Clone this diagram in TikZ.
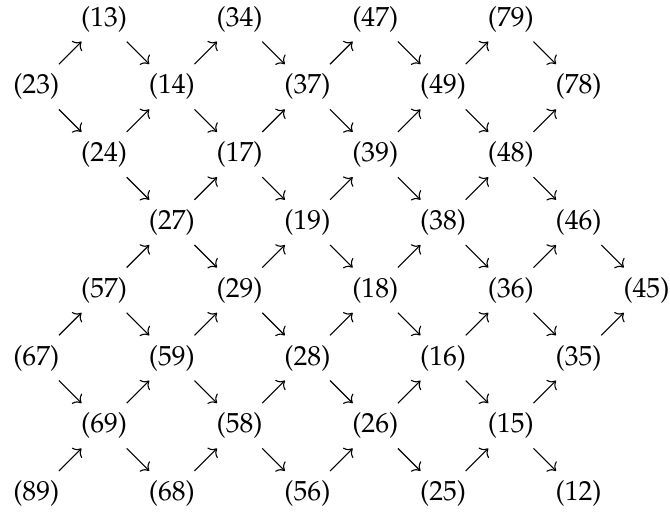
\documentclass[tikz,border=0pt]{standalone}
\usepackage[T1]{fontenc}
\usepackage{mathpazo}
\usepackage{tikz}
\usetikzlibrary{arrows.meta}

\begin{document}
\begin{tikzpicture}[
        x=24.57pt, y=-24.57pt,
        >={Computer Modern Rightarrow},
        arrow/.style={->}
    ]
        \useasboundingbox (-0.535,-0.280) rectangle (9.347,7.271);

        % row 0
        \node (s13) at (1,0) {(13)};
        \node (s34) at (3,0) {(34)};
        \node (s47) at (5,0) {(47)};
        \node (s79) at (7,0) {(79)};
        % row 1
        \node (s23) at (0,1) {(23)};
        \node (s14) at (2,1) {(14)};
        \node (s37) at (4,1) {(37)};
        \node (s49) at (6,1) {(49)};
        \node (s78) at (8,1) {(78)};
        % row 2
        \node (s24) at (1,2) {(24)};
        \node (s17) at (3,2) {(17)};
        \node (s39) at (5,2) {(39)};
        \node (s48) at (7,2) {(48)};
        % row 3
        \node (s27) at (2,3) {(27)};
        \node (s19) at (4,3) {(19)};
        \node (s38) at (6,3) {(38)};
        \node (s46) at (8,3) {(46)};
        % row 4
        \node (s57) at (1,4) {(57)};
        \node (s29) at (3,4) {(29)};
        \node (s18) at (5,4) {(18)};
        \node (s36) at (7,4) {(36)};
        \node (s45) at (9,4) {(45)};
        % row 5
        \node (s67) at (0,5) {(67)};
        \node (s59) at (2,5) {(59)};
        \node (s28) at (4,5) {(28)};
        \node (s16) at (6,5) {(16)};
        \node (s35) at (8,5) {(35)};
        % row 6
        \node (s69) at (1,6) {(69)};
        \node (s58) at (3,6) {(58)};
        \node (s26) at (5,6) {(26)};
        \node (s15) at (7,6) {(15)};
        % row 7
        \node (s89) at (0,7) {(89)};
        \node (s68) at (2,7) {(68)};
        \node (s56) at (4,7) {(56)};
        \node (s25) at (6,7) {(25)};
        \node (s12) at (8,7) {(12)};

        % rows 0-1
        \draw[arrow] (s23) -- (s13);
        \draw[arrow] (s13) -- (s14);
        \draw[arrow] (s14) -- (s34);
        \draw[arrow] (s34) -- (s37);
        \draw[arrow] (s37) -- (s47);
        \draw[arrow] (s47) -- (s49);
        \draw[arrow] (s49) -- (s79);
        \draw[arrow] (s79) -- (s78);
        % rows 1-2
        \draw[arrow] (s23) -- (s24);
        \draw[arrow] (s24) -- (s14);
        \draw[arrow] (s14) -- (s17);
        \draw[arrow] (s17) -- (s37);
        \draw[arrow] (s37) -- (s39);
        \draw[arrow] (s39) -- (s49);
        \draw[arrow] (s49) -- (s48);
        \draw[arrow] (s48) -- (s78);
        % rows 2-3
        \draw[arrow] (s24) -- (s27);
        \draw[arrow] (s27) -- (s17);
        \draw[arrow] (s17) -- (s19);
        \draw[arrow] (s19) -- (s39);
        \draw[arrow] (s39) -- (s38);
        \draw[arrow] (s38) -- (s48);
        \draw[arrow] (s48) -- (s46);
        % rows 3-4
        \draw[arrow] (s57) -- (s27);
        \draw[arrow] (s27) -- (s29);
        \draw[arrow] (s29) -- (s19);
        \draw[arrow] (s19) -- (s18);
        \draw[arrow] (s18) -- (s38);
        \draw[arrow] (s38) -- (s36);
        \draw[arrow] (s36) -- (s46);
        \draw[arrow] (s46) -- (s45);
        % rows 4-5
        \draw[arrow] (s67) -- (s57);
        \draw[arrow] (s57) -- (s59);
        \draw[arrow] (s59) -- (s29);
        \draw[arrow] (s29) -- (s28);
        \draw[arrow] (s28) -- (s18);
        \draw[arrow] (s18) -- (s16);
        \draw[arrow] (s16) -- (s36);
        \draw[arrow] (s36) -- (s35);
        \draw[arrow] (s35) -- (s45);
        % rows 5-6
        \draw[arrow] (s67) -- (s69);
        \draw[arrow] (s69) -- (s59);
        \draw[arrow] (s59) -- (s58);
        \draw[arrow] (s58) -- (s28);
        \draw[arrow] (s28) -- (s26);
        \draw[arrow] (s26) -- (s16);
        \draw[arrow] (s16) -- (s15);
        \draw[arrow] (s15) -- (s35);
        % rows 6-7
        \draw[arrow] (s89) -- (s69);
        \draw[arrow] (s69) -- (s68);
        \draw[arrow] (s68) -- (s58);
        \draw[arrow] (s58) -- (s56);
        \draw[arrow] (s56) -- (s26);
        \draw[arrow] (s26) -- (s25);
        \draw[arrow] (s25) -- (s15);
        \draw[arrow] (s15) -- (s12);
    \end{tikzpicture}
\end{document}
